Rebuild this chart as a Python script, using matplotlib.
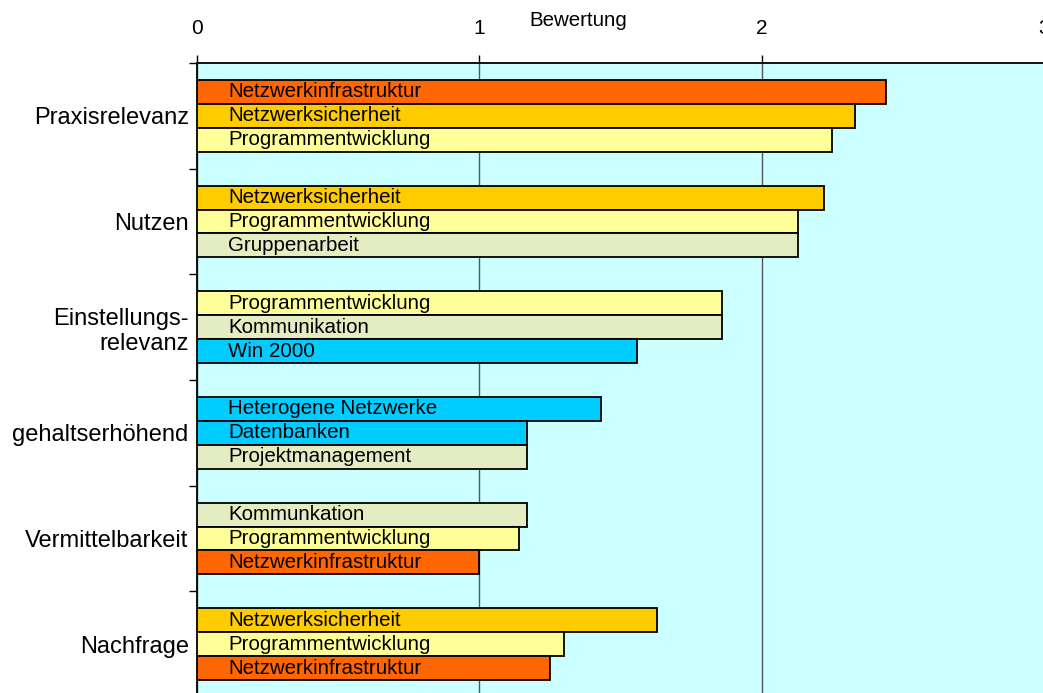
import numpy as np
import matplotlib
matplotlib.use("Agg")
from matplotlib import pyplot as plt

plt.rcParams['font.family'] = ['Liberation Sans', 'DejaVu Sans']

# categories (top to bottom) and their three bars each
categories = ['Praxisrelevanz', 'Nutzen', 'Einstellungs-\nrelevanz',
              'gehaltserhöhend', 'Vermittelbarkeit', 'Nachfrage']
bar_labels = [
    ['Netzwerkinfrastruktur', 'Netzwerksicherheit', 'Programmentwicklung'],
    ['Netzwerksicherheit', 'Programmentwicklung', 'Gruppenarbeit'],
    ['Programmentwicklung', 'Kommunikation', 'Win 2000'],
    ['Heterogene Netzwerke', 'Datenbanken', 'Projektmanagement'],
    ['Kommunkation', 'Programmentwicklung', 'Netzwerkinfrastruktur'],
    ['Netzwerksicherheit', 'Programmentwicklung', 'Netzwerkinfrastruktur'],
]
bar_values = [
    [2.44, 2.33, 2.25],
    [2.22, 2.13, 2.13],
    [1.86, 1.86, 1.56],
    [1.43, 1.17, 1.17],
    [1.17, 1.14, 1.00],
    [1.63, 1.30, 1.25],
]
xticks = [0, 1, 2, 3]

# colour per topic
colors = {
    'Netzwerkinfrastruktur': '#FF6600',
    'Netzwerksicherheit': '#FFCC00',
    'Programmentwicklung': '#FFFF99',
    'Gruppenarbeit': '#E4ECC2',
    'Kommunikation': '#E4ECC2',
    'Kommunkation': '#E4ECC2',
    'Projektmanagement': '#E4ECC2',
    'Win 2000': '#00CCFF',
    'Heterogene Netzwerke': '#00CCFF',
    'Datenbanken': '#00CCFF',
}

fig = plt.figure(figsize=(10.43, 6.93), dpi=100)
ax = fig.add_axes([197/1043, -4/693, 847/1043, 634/693])
ax.set_facecolor('#CCFFFF')

h = 0.227
for i, (labs, vals) in enumerate(zip(bar_labels, bar_values)):
    for j, (lab, v) in enumerate(zip(labs, vals)):
        y = i + 0.5 + (j - 1) * h
        ax.barh(y, v, height=h, color=colors[lab], edgecolor='black',
                linewidth=1.3, zorder=3)
        ax.text(0.11, y, lab, ha='left', va='center', fontsize=14.8, zorder=4)

ax.set_xlim(0, 3)
ax.set_ylim(6, 0)
ax.xaxis.tick_top()
ax.set_xticks(xticks)
ax.set_xticklabels([str(t) for t in xticks], fontsize=15)
ax.tick_params(axis='x', direction='out', length=6, width=1, pad=12)
ax.xaxis.grid(True, color='#555555', linewidth=1, zorder=1)

ax.set_yticks(np.arange(6) + 0.5)
ax.set_yticklabels(categories, fontsize=17, multialignment='right')
ax.set_yticks(np.arange(7), minor=True)
ax.tick_params(axis='y', which='major', length=0, pad=6)
ax.tick_params(axis='y', which='minor', length=6, width=1, direction='out')

for s in ['right', 'bottom']:
    ax.spines[s].set_visible(False)
ax.spines['top'].set_linewidth(1.3)
ax.spines['left'].set_linewidth(1.3)

fig.text(578/1043, 1 - 21/693, 'Bewertung', ha='center', va='center', fontsize=14.8)

fig.savefig('out.png', dpi=100)
